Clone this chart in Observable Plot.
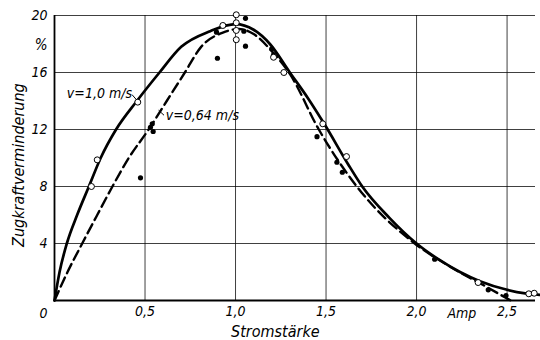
<!DOCTYPE html>
<html><head><meta charset="utf-8">
<script src="https://cdn.jsdelivr.net/npm/d3@7"></script>
<script src="https://cdn.jsdelivr.net/npm/@observablehq/plot@0.6"></script>
<style>body{margin:0;background:#fff}</style>
</head><body><div id="chart"></div><script>
// v = 1,0 m/s (solid curve)
const solidX = [0, 0.028, 0.068, 0.125, 0.19, 0.255, 0.34, 0.455, 0.58, 0.70, 0.86, 1.0, 1.10, 1.19, 1.30, 1.40, 1.49, 1.62, 1.70, 1.85, 2.0, 2.12, 2.24, 2.35, 2.5, 2.6, 2.68];
const solidY = [0, 2.0, 4.0, 6.0, 8.0, 10.0, 12.0, 14.0, 16.0, 17.8, 18.9, 19.4, 19.0, 18.0, 16.0, 14.2, 12.4, 9.6, 8.0, 5.8, 4.0, 2.9, 2.0, 1.35, 0.75, 0.5, 0.4];
// v = 0,64 m/s (dashed curve)
const dashX = [0, 0.072, 0.153, 0.236, 0.32, 0.41, 0.52, 0.62, 0.72, 0.81, 0.93, 1.02, 1.10, 1.20, 1.30, 1.46, 1.67, 1.99, 2.19, 2.39, 2.52];
const dashY = [0, 2.0, 4.0, 6.0, 8.0, 10.0, 12.0, 14.0, 16.0, 17.8, 18.8, 19.05, 18.7, 17.5, 15.9, 12.0, 8.0, 4.0, 2.34, 0.93, 0.0];
// measured points, v = 1,0 m/s (open)
const openX = [0.204, 0.236, 0.46, 0.93, 1.004, 1.004, 1.004, 1.004, 1.21, 1.267, 1.482, 1.613, 2.34, 2.62, 2.65];
const openY = [8.0, 9.87, 13.92, 19.3, 20.05, 19.49, 18.95, 18.3, 17.07, 16.0, 12.4, 10.1, 1.26, 0.47, 0.51];
// measured points, v = 0,64 m/s (filled)
const fillX = [0.475, 0.54, 0.545, 0.53, 0.895, 0.90, 1.055, 1.046, 1.055, 1.20, 1.21, 1.45, 1.56, 1.59, 2.10, 2.396, 2.494];
const fillY = [8.61, 12.4, 11.86, 12.15, 18.83, 17.0, 19.8, 18.9, 17.85, 17.66, 17.24, 11.5, 9.7, 9.0, 2.9, 0.75, 0.35];
// ticks
const xTicks = [0.5, 1.0, 1.5, 2.0, 2.5];
const yTicks = [4, 8, 12, 16, 20];

const solid = solidX.map((x, i) => ({x, y: solidY[i]}));
const dashed = dashX.map((x, i) => ({x, y: dashY[i]}));
const openPts = openX.map((x, i) => ({x, y: openY[i]}));
const fillPts = fillX.map((x, i) => ({x, y: fillY[i]}));

const font = "'Liberation Sans Narrow', 'DejaVu Sans Condensed', 'Roboto', sans-serif";

const chart = Plot.plot({
  width: 540, height: 340,
  marginLeft: 54, marginRight: 5, marginTop: 15, marginBottom: 40,
  style: {fontFamily: font, fontSize: "14px", fontStyle: "italic", background: "#fff", color: "#000"},
  x: {domain: [0, 2.657]},
  y: {domain: [0, 20]},
  marks: [
    Plot.gridX(xTicks, {stroke: "#000", strokeOpacity: 0.75, strokeWidth: 1}),
    Plot.gridY(yTicks, {stroke: "#000", strokeOpacity: 0.75, strokeWidth: 1}),
    Plot.axisX(xTicks, {tickSize: 0, tickPadding: 6, label: null, tickFormat: d => d.toFixed(1).replace(".", ","), fontSize: 14}),
    Plot.axisY(yTicks, {tickSize: 0, tickPadding: 7, label: null, fontSize: 14}),
    Plot.ruleY([0], {strokeWidth: 2.2}),
    Plot.ruleX([0], {y1: 0, y2: 20, strokeWidth: 1.8}),
    Plot.line(solid, {x: "x", y: "y", curve: "monotone-x", strokeWidth: 2.7}),
    Plot.line(dashed, {x: "x", y: "y", curve: "monotone-x", strokeWidth: 2.4, strokeDasharray: "10,5"}),
    Plot.dot(fillPts, {x: "x", y: "y", r: 2.6, fill: "#000"}),
    Plot.dot(openPts, {x: "x", y: "y", r: 3, fill: "#fff", stroke: "#000", strokeWidth: 1}),
    Plot.text(["v=1,0 m/s"], {x: 0.428, y: 14.5, textAnchor: "end", fontSize: 14}),
    Plot.link([0], {x1: 0.428, y1: 14.45, x2: 0.452, y2: 14.1, strokeWidth: 1}),
    Plot.text(["v=0,64 m/s"], {x: 0.615, y: 13.0, textAnchor: "start", fontSize: 14}),
    Plot.link([0], {x1: 0.575, y1: 13.35, x2: 0.605, y2: 13.0, strokeWidth: 1}),
    Plot.text(["%"], {x: 0, y: 17.9, dx: -7, textAnchor: "end", fontSize: 15}),
    Plot.text(["0"], {x: 0, y: 0, dx: -11, dy: 13, fontSize: 14}),
    Plot.text(["Amp"], {x: 2.25, y: 0, dy: 13, fontSize: 14}),
    Plot.text(["Stromstärke"], {x: 1.22, y: 0, dy: 31, fontSize: 16}),
    Plot.text(["Zugkraftverminderung"], {x: 0, y: 9.5, dx: -36, rotate: -90, fontSize: 16})
  ]
});
document.getElementById("chart").appendChild(chart);
</script></body></html>
